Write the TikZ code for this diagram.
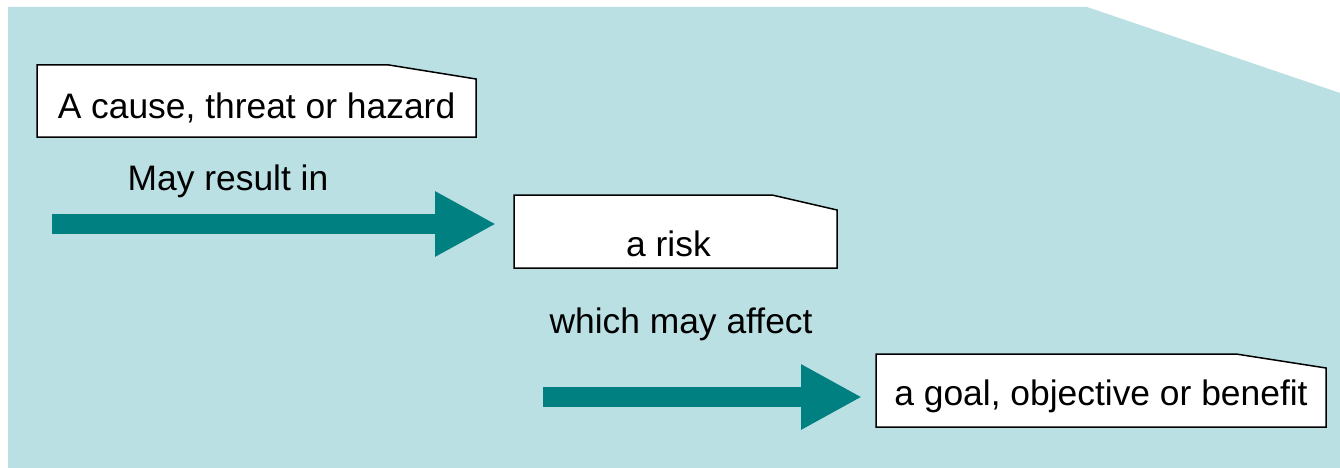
\documentclass[tikz,border=0pt]{standalone}
\usepackage{fontspec}
\setmainfont{Liberation Sans}
\usetikzlibrary{arrows.meta}

\definecolor{fondbleu}{HTML}{BAE0E3}
\definecolor{sarcelle}{HTML}{008080}

\pgfdeclarelayer{fond}
\pgfdeclarelayer{cadre}
\pgfsetlayers{fond,cadre,main}

% contour d'une boite au coin coupe : nom, coupe en x, coupe en y
\newcommand{\boitecoupee}[3]{%
\begin{pgfonlayer}{cadre}
\draw[contour] (#1.south west) -- (#1.north west) -- ([xshift=-#2]#1.north east)
  -- ([yshift=-#3]#1.north east) -- (#1.south east) -- cycle;
\end{pgfonlayer}}

\begin{document}
\begin{tikzpicture}[x=1pt,y=-1pt]

% définition des styles
\tikzstyle{texte}=[font=\fontsize{35.4}{42}\selectfont]
\tikzstyle{boite}=[texte,rectangle,outer sep=0pt,inner sep=0pt,text depth=0pt,minimum height=73pt]
\tikzstyle{contour}=[draw=black,fill=white,line width=1.5pt,line join=miter]
\tikzstyle{fleche}=[sarcelle,line width=20pt,-{Triangle[length=61pt,width=61pt]}]

\useasboundingbox (0,0) rectangle (1340,468);

% le fond
\begin{pgfonlayer}{fond}
\fill[fondbleu] (8,7) -- (1087,7) -- (1340,93) -- (1340,468) -- (8,468) -- cycle;
\end{pgfonlayer}

% les boites
\node [boite,minimum width=439pt,minimum height=72pt,text height=36pt] (cause) at (256.5,101) {A cause, threat or hazard};
\node [boite,minimum width=323pt,text height=49pt] (risque) at (675.5,231.5) {a risk\hspace*{14pt}};
\node [boite,minimum width=450pt,text height=29pt] (but) at (1101,390.5) {a goal, objective or benefit};
\boitecoupee{cause}{87pt}{14pt}
\boitecoupee{risque}{65pt}{15pt}
\boitecoupee{but}{90pt}{14pt}

% les textes
\node [texte,anchor=base] (resulte) at (228,190) {May result in};
\node [texte,anchor=base] (affecte) at (681,333) {which may affect};

% les flèches
\coordinate (depart1) at (52,224);
\coordinate (depart2) at (543,397);
\draw[fleche,shorten >=18pt] (depart1) -- (depart1 -| risque.west);
\draw[fleche,shorten >=14pt] (depart2) -- (depart2 -| but.west);

\end{tikzpicture}
\end{document}
